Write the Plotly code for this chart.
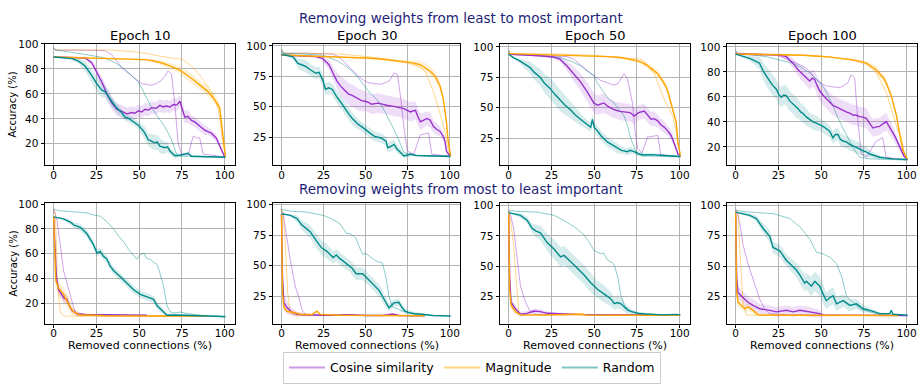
import plotly.graph_objects as go

W, H = 922, 384

# Mean curves are (removed connections %, mean accuracy %, spread ±%);
# single-run curves are (removed connections %, accuracy %).

# ---------- removing weights from least to most important ----------
e10_lm_cos = [(0, 89.5, 0), (10, 89.3, 0.5), (18.4, 88.7, 1), (22.3, 84.9, 2), (25.2, 77.2, 3), (28.2, 69.5, 4),
              (31, 60.5, 5), (34, 52.8, 5), (36.9, 47.7, 5), (40.8, 45.1, 5), (43, 44, 5), (45.6, 45.1, 5),
              (47.5, 44.5, 5), (49.5, 46.4, 5), (51.5, 45.5, 5), (53.4, 47.7, 5), (55.5, 47, 5), (57.3, 49, 5),
              (60, 48.5, 5), (62.1, 50.8, 5), (64, 49.5, 5), (66, 50.3, 5), (68, 49.5, 5), (70, 51.5, 5),
              (72, 51, 5), (73.8, 54.1, 5), (74.8, 49, 5), (76.7, 41.3, 5), (78.5, 42, 5), (80.6, 38.7, 4),
              (82.5, 37.5, 4), (84.5, 34.9, 4), (86.4, 33, 4), (88.3, 31, 4), (90.3, 30, 3), (92.2, 28.5, 3),
              (95.1, 24.6, 3), (96.8, 20, 2), (98, 15.6, 2), (100, 9.5, 0)]
e10_lm_mag = [(0, 89.5, 0), (12, 89, 0.3), (24.3, 88.7, 0.5), (40, 88.2, 0.8), (53.4, 87.4, 1), (58, 86.5, 1.5),
              (63, 84.9, 2), (68, 82.5, 2.5), (72.8, 79.7, 3), (75.7, 77.3, 3.5), (78.6, 74.6, 4), (81.5, 71.5, 4),
              (84.5, 68.2, 4), (87.4, 65, 4), (90.3, 61.8, 4), (92.2, 58.5, 4), (94.2, 55.4, 4), (97.1, 49, 3),
              (98, 38.7, 3), (99, 23.3, 2), (100.5, 9.5, 0)]
e10_lm_rnd = [(0, 89.5, 0), (5, 89, 0.5), (10.7, 88.2, 1), (14.6, 86.2, 2), (18.4, 82.3, 4), (22.3, 74.6, 5),
              (25.2, 68.2, 6), (28.2, 63, 6), (30.1, 61.8, 5), (32, 57.9, 5), (34, 53.5, 4), (35.9, 50.3, 4),
              (37.8, 47.5, 4), (39.8, 45.1, 3), (41.7, 41.3, 3), (43.6, 40.5, 3), (45.6, 38.7, 3), (47.5, 37, 3),
              (49.5, 34.9, 3), (51.5, 32, 4), (53.4, 28.5, 5), (55.3, 23.3, 5), (57.3, 22, 6), (59.2, 20.8, 6),
              (60.5, 21.5, 6), (62.1, 18.2, 6), (65, 16.9, 5), (66.5, 17.5, 4), (68, 14.3, 3), (70.9, 10.5, 2),
              (73.8, 10.8, 1.5), (76.7, 11.8, 1.5), (78.6, 12.5, 1), (80.5, 10, 1), (90, 9.4, 0.5), (100.5, 9.2, 0)]
e10_lm_cos_run = [(0, 97), (1, 95), (15, 95), (30.1, 94.6), (34, 91.3), (37, 86), (39.8, 81), (42.7, 77.5),
                  (45.6, 74.6), (48.5, 71), (51.5, 68.2), (54.4, 67.5), (57.3, 66.9), (60.2, 68.5), (63.1, 70.8),
                  (65, 74), (67, 78.5), (68.9, 75.9), (70.9, 51.5), (72.8, 20.8), (74.8, 11.8), (78.6, 11),
                  (80, 18), (81.6, 26), (83.5, 25), (85.4, 24.6), (87.4, 11.8), (100, 9.5)]
e10_lm_mag_run = [(0, 97), (1, 95.3), (20, 95.2), (34, 95.1), (45, 94), (53.4, 92.6), (61, 90.5), (68.9, 88.7),
                  (74.8, 88), (77.7, 85.5), (80.6, 82.3), (83.5, 78), (86.4, 73.3), (89.3, 67.5), (92.2, 61.8),
                  (94.1, 55.5), (96, 49), (97, 42), (98, 31), (99, 20), (100.5, 9.5)]
e10_lm_rnd_run = [(0, 97), (1, 95), (7, 94), (14.6, 92.6), (22, 90.8), (30.1, 88.7), (33, 87), (35.9, 84.9),
                  (38.8, 82.5), (41.7, 79.7), (44.2, 76.5), (46.6, 73.3), (49.5, 69.5), (51.5, 64.5), (53.4, 59.2),
                  (55.3, 54), (57.3, 49), (59.2, 45), (61.2, 41.3), (63.1, 37.5), (65, 33.6), (67, 28.5),
                  (68.9, 23.3), (71.8, 11.8), (74, 10.2), (100, 9.4)]

e30_lm_cos = [(0, 92.5, 0), (10, 92, 0.5), (20.4, 91.2, 1), (24.3, 89.8, 2), (28.2, 84.5, 4), (31, 76.5, 6),
              (33, 71.1, 7), (35, 67.1, 8), (37, 64.4, 9), (39.8, 60.4, 9), (41.7, 59.5, 9), (43.7, 57.8, 9),
              (45.6, 56, 9), (47.6, 55, 9), (49.5, 54.5, 8), (51.5, 53.7, 8), (53.4, 52, 8), (55.3, 52.4, 8),
              (57.3, 53, 8), (59.2, 52.4, 8), (61.1, 51.5, 8), (63.1, 51, 8), (66, 50.5, 8), (69, 49.7, 8),
              (71, 49.2, 8), (72.8, 48.4, 8), (74.7, 47, 8), (76.7, 45.7, 8), (78, 46.5, 8), (79.6, 47, 7),
              (81, 42, 7), (82.5, 37.7, 7), (84.5, 39, 6), (86.4, 40.4, 6), (88.3, 39, 6), (90.3, 33.7, 5),
              (92.2, 31.5, 5), (94.2, 29.7, 4), (96, 26, 3), (97.1, 21.7, 3), (98, 13.6, 2), (100, 9.6, 0)]
e30_lm_mag = [(0, 92.5, 0), (10, 92, 0.3), (24.3, 91.2, 0.5), (40, 90.5, 0.5), (53.4, 89.8, 0.8), (63, 88.6, 1),
              (72.8, 87.2, 1.5), (78, 86, 2.5), (82.5, 84.5, 3), (85.5, 82, 4), (88.3, 79.2, 4), (91.3, 75.1, 4),
              (94.2, 67.1, 4), (96.1, 56.4, 3), (98, 37.7, 3), (99, 21.7, 2), (100.5, 9.6, 0)]
e30_lm_rnd = [(0, 93.1, 0), (3.5, 92, 1), (6.8, 91, 2), (8.5, 88, 3), (9.7, 85.6, 4), (12, 84.5, 5),
              (14.6, 82.9, 5), (17.5, 80, 5), (20.4, 77.5, 5), (22.3, 78.3, 5), (24.3, 72.5, 5), (26.2, 64.4, 5),
              (28, 65.5, 5), (30.1, 64.4, 5), (31.5, 61, 5), (33, 57.8, 5), (35.9, 52.4, 5), (37.8, 48, 5),
              (39.8, 44.4, 5), (41.7, 41, 5), (43.7, 37.7, 5), (45.6, 35.5, 4), (47.6, 33.7, 4), (49.5, 31.5, 4),
              (51.5, 29.7, 4), (53.4, 27.5, 4), (55.3, 25.7, 4), (57.3, 25, 4), (59.2, 24.3, 4), (62.1, 21.7, 4),
              (63.1, 16.3, 4), (65, 17.5, 4), (67, 19, 4), (68.5, 15.5, 3), (69.9, 13.6, 3), (72.8, 9.6, 2),
              (76.7, 11, 1.5), (80, 10, 1), (90, 9.5, 0.5), (100.5, 9.1, 0)]
e30_lm_cos_run = [(0, 97), (1, 94), (15, 94), (30, 93.3), (34, 91.2), (36.9, 87), (39.8, 83.2), (42.7, 79),
                  (45.6, 75.1), (48.5, 72), (51.5, 69.8), (55.3, 69), (59.2, 68.5), (62, 70), (64, 71.1),
                  (67, 77.8), (68.9, 76.5), (70.9, 56.4), (72.8, 32.4), (74.8, 13.6), (78.6, 11), (80.5, 19),
                  (82.5, 27), (87.4, 28.3), (89.3, 11), (100, 9.5)]
e30_lm_mag_run = [(0, 97), (1, 94), (20, 93.8), (34, 93.3), (45, 92), (59.2, 89.8), (68, 87.5), (76.7, 85.8),
                  (80.6, 83.5), (84.5, 80.5), (86.4, 76), (88.3, 69.8), (90.3, 62), (92.2, 53.7), (93.7, 47),
                  (95.1, 40.4), (97.1, 29.7), (98.5, 18), (100, 9.5)]
e30_lm_rnd_run = [(0, 97), (1, 94), (12, 93.3), (24.3, 92.5), (29, 90), (34, 87.2), (36.9, 84.5), (39.8, 81.8),
                  (42.7, 78), (45.6, 73.8), (48.5, 68.5), (51.5, 63.1), (54.4, 59), (57.3, 55), (59.7, 50),
                  (62.1, 44.4), (64.5, 37.5), (67, 31), (70, 21.7), (72.8, 12.3), (76.7, 11), (80, 10), (100, 9.5)]

e50_lm_cos = [(0, 94, 0), (10, 93.5, 0.5), (20, 92.5, 1), (26, 91.7, 1.5), (30, 89.9, 2), (34, 84.5, 4),
              (38, 77.9, 6), (42, 71.2, 7), (45.9, 63.2, 8), (48, 58, 8), (49.8, 53.9, 8), (52, 52, 8),
              (55.7, 53.9, 8), (58, 51, 7), (61.6, 48.5, 7), (65, 47, 7), (69.5, 45.9, 7), (71, 46, 7),
              (73.4, 43.2, 7), (76, 46, 6), (79.3, 47.2, 6), (81, 44, 6), (83.3, 40.5, 6), (85, 41, 6),
              (87.2, 39.2, 5), (89, 36, 5), (91.1, 33.9, 5), (93, 31, 4), (95, 27.2, 4), (96.5, 22, 3),
              (98, 16.5, 2), (99, 12, 1), (100.5, 10.7, 0)]
e50_lm_mag = [(0, 94.4, 0), (10, 94, 0.3), (25, 93.5, 0.5), (40, 93, 0.5), (49.8, 92.5, 0.5), (58, 92, 0.8),
              (65.5, 91.2, 1), (70, 90, 1), (75.4, 88.5, 1.5), (78, 87, 2), (81.3, 84.5, 2.5), (84, 81.5, 3),
              (87.2, 77.9, 3), (90, 72, 3), (92.1, 67.2, 3), (93.5, 61, 3), (95, 53.9, 3), (96.5, 46, 3),
              (98, 37.9, 3), (99, 21.9, 2), (100.5, 9.9, 0)]
e50_lm_rnd = [(0, 93.9, 0), (3, 91, 1), (6.5, 88.5, 2), (9, 86, 3), (12.4, 83.2, 5), (15, 79, 6), (18.3, 75.2, 7),
              (21, 70, 8), (24.2, 65.9, 9), (27, 61, 9), (30, 56.5, 9), (33, 52, 8), (36, 48.5, 7), (39, 44, 6),
              (42, 40.5, 5), (45, 37, 4), (48, 33.9, 4), (49, 40.5, 4), (50, 34, 4), (51.8, 31.2, 4), (54, 27, 4),
              (57.7, 21.9, 4), (60, 20, 4), (63.6, 16.5, 4), (66, 15, 3), (69.5, 13.9, 3), (71, 15, 3),
              (73.4, 13.9, 2), (76, 12, 2), (79.3, 11.2, 1.5), (84, 11.5, 1), (89, 11, 1), (95, 10.2, 0.5),
              (100.5, 9.9, 0)]
e50_lm_cos_run = [(0, 97), (1, 93.5), (15, 93), (30, 92.5), (34, 92), (38, 89.9), (42, 85), (45.9, 80.5), (50, 76),
                  (53.7, 72.5), (58, 70), (61.6, 68.5), (64, 70), (67.5, 77.9), (69.5, 73.9), (72.4, 53.9),
                  (74, 30), (75.4, 16.5), (78, 13), (81.3, 25.9), (87.2, 27.2), (89, 11.2), (100, 10)]
e50_lm_mag_run = [(0, 97), (1, 94.4), (30, 94), (50, 93), (63.6, 91.2), (70, 90.5), (77.4, 89.9), (80, 87),
                  (82, 83), (85.2, 77.9), (88, 68), (91.1, 56.5), (93.5, 50), (96, 43.2), (98, 29.9), (99, 20),
                  (100.5, 10.7)]
e50_lm_rnd_run = [(0, 97), (1, 93.9), (15, 93), (30, 91.2), (36, 88.5), (42, 84.5), (46, 80), (49.8, 76.5),
                  (52, 70), (55.7, 62), (58, 58), (61.6, 53.9), (65, 48), (67.5, 43.2), (69.5, 35), (71.5, 24.5),
                  (74.4, 13.9), (78, 10.5), (100, 9.5)]

e100_lm_cos = [(0, 94.3, 0), (10, 94, 0.5), (20, 93.8, 1), (25.7, 93.5, 1), (29.6, 92.2, 2), (31.5, 90, 3),
               (33.5, 87, 4), (36.5, 81.8, 5), (38.5, 79, 6), (40.4, 76.6, 6), (43.3, 72.7, 7), (44.8, 75, 7),
               (46.2, 74, 7), (47.7, 69, 8), (49.1, 64.9, 8), (51, 61.5, 8), (53, 58.4, 8), (55, 56, 8),
               (56.9, 53.2, 8), (58.8, 52, 8), (60.8, 50.6, 8), (62.7, 49, 8), (64.7, 48.1, 8), (66.7, 47, 8),
               (68.6, 45.5, 8), (70.6, 45.3, 8), (72.5, 44.2, 8), (74.5, 43.8, 8), (76.4, 42.9, 8), (78.3, 39, 7),
               (80.3, 35.1, 7), (82.2, 36, 7), (84.2, 36.4, 7), (86.1, 38.5, 7), (88.1, 40.3, 7), (89.5, 37, 6),
               (91, 33.8, 6), (92.5, 30, 5), (94, 26, 4), (96.9, 16.9, 3), (98.5, 12.5, 1), (100.5, 9.9, 0)]
e100_lm_mag = [(0, 94.3, 0), (20, 94, 0.3), (40, 93.3, 0.5), (53, 92.2, 0.5), (61, 91, 0.8), (68.6, 89.6, 1),
               (76.4, 87, 2), (79.3, 84.7, 2.5), (82.2, 81.8, 3), (84.6, 78, 3), (87.1, 74, 3), (89, 68, 3),
               (91, 61, 3), (92.5, 53, 3), (94, 45.5, 3), (96, 29.9, 3), (97.9, 16.9, 2), (100.5, 9.9, 0)]
e100_lm_rnd = [(0, 94.3, 0), (4, 92.5, 1), (8.2, 90.9, 2), (11, 89, 3), (14, 87, 5), (16, 81, 7), (17.9, 76.6, 8),
               (19.9, 72.7, 8), (21.8, 69, 8), (23.8, 66.2, 8), (25.2, 62, 8), (26.7, 59.7, 8), (28.1, 61.5, 8),
               (29.6, 61, 8), (31.5, 57, 8), (33.5, 54.5, 8), (35, 52, 8), (36.5, 50.6, 8), (38, 48, 7),
               (39.4, 46.8, 7), (41.3, 44, 7), (43.3, 41.6, 6), (45.2, 40, 6), (47.2, 39, 6), (49.1, 38, 5),
               (51.1, 36.4, 5), (53, 34.5, 5), (55, 32.5, 5), (56.9, 27.3, 5), (58.3, 30, 5), (59.8, 29.9, 5),
               (61.3, 26, 5), (62.8, 24.7, 5), (64.7, 24, 5), (66.7, 22.1, 5), (68.6, 21, 5), (70.6, 19.5, 5),
               (72.5, 18.5, 5), (74.5, 16.9, 4), (76.4, 16, 4), (78.4, 14.3, 3), (81.3, 13, 2), (84.2, 11.7, 1.5),
               (88, 11, 1), (92, 10.4, 0.5), (100.5, 9.9, 0)]
e100_lm_cos_run = [(0, 97), (1, 95), (12, 94.5), (23.8, 93.5), (28.6, 91), (33.5, 88.3), (37.4, 85.7),
                   (41.3, 83.1), (44.2, 78.5), (47.2, 74), (50, 71), (53, 68.8), (57, 68), (60.8, 67.5),
                   (63.2, 69), (65.7, 71.4), (67.6, 77.9), (69.6, 75.3), (71.5, 40.3), (73.5, 14.3), (76.4, 11.7),
                   (79.3, 18), (82.2, 24.7), (86, 27.3), (88, 11.7), (100, 9.5)]
e100_lm_mag_run = [(0, 97), (1, 94.5), (30, 94), (53, 92.2), (68.6, 89.6), (76.4, 87), (79.3, 83.5), (82.2, 79.2),
                   (85.2, 71.5), (88.1, 63.6), (90, 55), (92, 45.5), (93.5, 38), (95, 32.5), (96.9, 27.3),
                   (98.8, 14.3), (100.5, 9.9)]
e100_lm_rnd_run = [(0, 97), (1, 94.8), (10, 93.5), (17.9, 92.2), (25.7, 89.5), (33.5, 87), (38.4, 83.5),
                   (43.3, 79.2), (47.2, 74), (51.1, 68.8), (54, 61), (56.9, 53.2), (58.8, 46.5), (60.8, 40.3),
                   (62.7, 35), (64.7, 29.9), (66.7, 24.5), (68.6, 19.5), (70.6, 15.5), (72.5, 11.7), (78, 10.5),
                   (100, 9.5)]

# ---------- removing weights from most to least important ----------
e10_ml_cos = [(0, 89.7, 0), (0.6, 67, 3), (1.6, 41, 4), (2.9, 30.8, 4), (4.9, 25.7, 4), (6, 24, 4), (7.8, 23, 4),
              (8.8, 19, 3), (10.7, 14, 2), (13.6, 11.5, 1.5), (18, 10.8, 1), (27.3, 10.5, 0.5), (40, 10.3, 0.5),
              (54.6, 10.2, 0.3)]
e10_ml_mag = [(0, 89.7, 0), (0.6, 54, 5), (1.2, 38.6, 6), (2.9, 32, 6), (5.8, 27, 6), (7.8, 21.8, 6),
              (9.7, 16.6, 5), (11.7, 12.8, 3), (15.6, 10.2, 1.5), (20, 10.5, 1), (30, 9.7, 0.5), (60, 9.6, 0.3),
              (90, 9.5, 0.3)]
e10_ml_rnd = [(0, 89.7, 0), (3, 89, 0.5), (5.8, 88, 1), (9.7, 85.5, 2), (12, 83, 2.5), (15.6, 81.2, 3),
              (19.5, 76, 3), (23.4, 67, 3), (25.3, 60.5, 3), (27.3, 61.8, 3), (29, 58, 3), (31.2, 55.4, 3),
              (33, 50, 3), (35, 46.3, 3), (37, 44, 3), (39, 41.2, 3), (42.9, 36, 3), (46.8, 30.8, 3),
              (50.7, 27, 3), (54.6, 25.2, 3), (58.5, 23, 3), (60.4, 18, 3), (62, 16, 3), (64.3, 12.8, 2),
              (66.3, 10.2, 1.5), (70, 10.3, 1), (78, 10.2, 1), (85, 9.8, 0.5), (95, 9.3, 0.3), (100.5, 9, 0)]
e10_ml_cos_run = [(0, 96), (1.9, 87.6), (3.9, 67), (5.8, 46.3), (7.8, 36), (9.7, 25.7), (11.7, 16.6),
                  (13.6, 10.2), (30, 9.8), (60, 9.8), (90, 9.8)]
e10_ml_mag_run = [(0, 96), (1, 93), (1.6, 67), (2.3, 33.4), (3.9, 12.8), (5.8, 9.5), (30, 9.3), (60, 9.3),
                  (90, 9.3)]
e10_ml_rnd_run = [(0, 96), (4, 94.5), (9.7, 94), (19.5, 92.8), (24, 91), (27.3, 90.2), (31, 86), (35, 80),
                  (38, 74), (40.9, 69.5), (44, 63), (46.8, 58), (48.7, 55.4), (50.5, 59), (52.6, 60.5),
                  (54.5, 56), (56.5, 55.4), (58.5, 53), (60.4, 51.5), (62, 45), (64.3, 33.4), (66.3, 18),
                  (68.2, 12.8), (71, 12), (74, 12.8), (78, 11.5), (84, 10.2), (90, 9.5), (100, 9.3)]

e30_ml_cos = [(0, 92, 0), (0.6, 41, 5), (1.4, 20, 6), (3.3, 16, 5), (6.3, 12, 3), (9.2, 10.6, 2), (15, 10, 1),
              (30, 9.8, 0.5), (40, 10.3, 0.5), (50, 9.5, 0.3), (60, 9.6, 0.3), (66, 10.8, 0.5), (70, 9.6, 0.3),
              (85, 9.3, 0.2)]
e30_ml_mag = [(0, 92, 0), (0.6, 28, 3), (1.4, 16, 3), (3.3, 13, 2), (7.2, 12, 2), (11, 10.6, 1), (18, 10.2, 1),
              (21, 13, 1), (23, 10.5, 1), (35, 9.8, 0.5), (60, 9.5, 0.3), (85, 9.3, 0.2)]
e30_ml_rnd = [(0, 92.3, 0), (5.3, 91, 1), (9.2, 88.4, 3), (12.1, 83.1, 4), (15, 80, 5), (17, 77.8, 5),
              (20.9, 70, 6), (23.8, 64.6, 6), (26.8, 62, 6), (30.7, 56.7, 5), (32.6, 58.8, 5), (34.5, 56, 5),
              (36.5, 54, 5), (40.4, 50.1, 5), (42, 48, 5), (44.3, 43.5, 5), (48.2, 43.5, 5), (50, 41, 5),
              (52.1, 38.3, 5), (56, 33, 5), (58, 30, 5), (60, 25, 5), (62, 20, 4), (63.9, 15.8, 3),
              (66.8, 19.8, 3), (69.7, 20.3, 3), (71.7, 15.8, 3), (73.5, 13, 2), (75.6, 11.9, 2), (79, 11, 1.5),
              (83.4, 10.6, 1), (90, 9.5, 0.5), (100.5, 9.2, 0)]
e30_ml_cos_run = [(0, 96), (1, 92), (2.3, 80.5), (5.3, 54), (8.2, 33), (10.2, 25), (12.1, 14.5), (14, 10.6),
                  (30, 9.8), (60, 9.8), (85, 9.5)]
e30_ml_mag_run = [(0, 96), (1, 93), (2.3, 67), (3.7, 28), (5.3, 12), (8, 9.5), (40, 9.5), (85, 9.3)]
e30_ml_rnd_run = [(0, 96), (5, 94.5), (15, 93.7), (24.8, 91), (30, 88), (34.6, 84.4), (38.5, 76.5), (41, 76),
                  (44.3, 72.6), (46, 66), (48.2, 59.4), (50, 60), (52.1, 58), (54, 56), (56, 54), (58, 53),
                  (60, 52), (62, 41), (63.9, 25), (65.8, 17), (67, 16), (69.7, 14.5), (72, 13), (75.6, 11.9),
                  (80, 10.5), (85, 9.5)]

e50_ml_cos = [(0, 93, 0), (0.6, 41.6, 4), (1.4, 20.4, 4), (3.9, 15, 3), (6.9, 10.3, 2), (10.8, 11.1, 2),
              (14.7, 13, 2), (18.6, 12.5, 2), (22.5, 11.1, 1.5), (30, 10.5, 1), (40, 10.2, 0.5), (50, 10, 0.3),
              (70, 9.8, 0.3), (85, 9.6, 0.2), (95, 9.5, 0)]
e50_ml_mag = [(0, 93, 0), (0.6, 31, 3), (1.4, 17.8, 3), (3.9, 12.5, 2), (6.9, 9.8, 1), (20, 9.6, 0.5),
              (43, 10.5, 0.5), (45, 9.6, 0.3), (70, 9.5, 0.3), (100, 9.4, 0)]
e50_ml_rnd = [(0, 94.2, 0), (3, 93, 1), (6.9, 92, 2), (10.8, 88, 3), (13.7, 81.4, 4), (16, 79, 5), (18.6, 77.5, 6),
              (22.5, 69.5, 7), (26.5, 64.2, 8), (30.4, 57.6, 8), (32.4, 58.9, 8), (36.3, 53.6, 8),
              (40.2, 48.3, 8), (44, 43, 8), (48, 36.3, 8), (51.9, 31, 7), (55.9, 27, 7), (59.8, 23, 6),
              (61.8, 19, 5), (63.5, 20, 5), (65.7, 19, 5), (67.6, 16.4, 4), (69.6, 13.8, 3), (72, 12.5, 2),
              (75.5, 11.1, 1.5), (80, 10.5, 1), (85.3, 10.3, 0.5), (90, 9.8, 0.3), (98, 10.2, 0.3),
              (100.5, 9.8, 0)]
e50_ml_cos_run = [(0, 96), (1, 93), (2.9, 81.4), (4.9, 55), (6.9, 33.7), (9.8, 20.4), (12.7, 12.5), (16, 10.2),
                  (40, 10), (70, 9.8), (95, 9.5)]
e50_ml_mag_run = [(0, 96), (1, 89), (2.9, 68), (4.9, 31), (5.9, 12.5), (8, 9.8), (40, 9.6), (100, 9.4)]
e50_ml_rnd_run = [(0, 96), (5, 95.3), (16.7, 94.7), (26.5, 92), (32, 88), (38.2, 82.8), (44, 76), (47, 70),
                  (50, 62.9), (53.9, 60.2), (55.5, 61), (57.8, 55), (60.8, 52.8), (62, 50), (63.7, 41.6),
                  (65.7, 25.7), (67.6, 17.8), (71.6, 12.5), (77.5, 11.1), (85, 10), (100, 9.7)]

e100_ml_cos = [(0, 94, 0), (0.6, 41.4, 5), (1.4, 28, 5), (4.3, 24, 5), (7.2, 20.3, 5), (10.2, 17.7, 5),
               (14, 15, 4), (19.9, 13.7, 4), (23.8, 12.4, 4), (29.7, 13.7, 4), (33.6, 12.4, 4), (37.5, 13.7, 4),
               (43.4, 12.4, 4), (49.2, 11, 3), (51.2, 9.8, 1), (70, 9.6, 0.3), (100.5, 9.5, 0)]
e100_ml_mag = [(0, 94, 0), (0.6, 28, 4), (1.4, 20.3, 4), (3.3, 17.7, 3), (5.3, 15, 3), (7.2, 16.4, 3),
               (10.2, 13.7, 3), (12.1, 11, 2), (14, 9.8, 1), (30, 9.6, 0.5), (60, 9.5, 0.3), (95, 9.4, 0.3)]
e100_ml_rnd = [(0, 94.2, 0), (4, 93, 1), (8.2, 91.6, 1.5), (12.1, 88.9, 2.5), (16, 81, 4), (19.9, 74.4, 5),
               (21.9, 65.2, 5), (25.8, 62.5, 5), (29.7, 54.6, 5), (31.6, 52, 5), (35.5, 46.7, 6), (37.5, 42.7, 6),
               (40.4, 36, 7), (41.4, 37.5, 7), (44.3, 33.5, 8), (46.3, 37.5, 8), (49.2, 33.5, 8), (51.2, 27, 8),
               (53, 21.6, 7), (55, 24, 7), (57, 25.6, 7), (59, 19, 6), (62.9, 21.6, 5), (66.8, 17.7, 5),
               (70.7, 19, 4), (74.6, 15, 3), (78.5, 13.7, 2), (84.4, 11, 1), (90.2, 11, 0.5), (91, 13.7, 0.5),
               (92, 10.5, 0.5), (100.5, 9.8, 0)]
e100_ml_cos_run = [(0, 96), (1, 94), (2.3, 86.3), (4.3, 67.8), (7.2, 52), (10.2, 38.8), (14, 23), (17, 15),
                   (19.9, 11), (30, 10), (60, 9.8), (95, 9.6)]
e100_ml_mag_run = [(0, 96), (1.4, 94), (2.3, 67.8), (4.3, 20.3), (6.3, 9.8), (30, 9.6), (95, 9.4)]
e100_ml_rnd_run = [(0, 96), (5, 94.5), (21.9, 93), (27, 91), (31.6, 89), (35, 85), (37.5, 82.3), (40, 78),
                   (43.4, 71.8), (47.3, 61.2), (51, 60), (55, 57.3), (59, 52), (62, 41.4), (64.8, 25.6),
                   (66.5, 23), (68.75, 20.3), (72.7, 15), (78.5, 12.4), (85, 10), (100, 9.5)]

epochs = [10, 30, 50, 100]
methods = ["Cosine similarity", "Magnitude", "Random"]
x_ticks = [0, 25, 50, 75, 100]

# panel order: top row (least -> most), then bottom row (most -> least)
panels = [
    (e10_lm_cos, e10_lm_mag, e10_lm_rnd, e10_lm_cos_run, e10_lm_mag_run, e10_lm_rnd_run),
    (e30_lm_cos, e30_lm_mag, e30_lm_rnd, e30_lm_cos_run, e30_lm_mag_run, e30_lm_rnd_run),
    (e50_lm_cos, e50_lm_mag, e50_lm_rnd, e50_lm_cos_run, e50_lm_mag_run, e50_lm_rnd_run),
    (e100_lm_cos, e100_lm_mag, e100_lm_rnd, e100_lm_cos_run, e100_lm_mag_run, e100_lm_rnd_run),
    (e10_ml_cos, e10_ml_mag, e10_ml_rnd, e10_ml_cos_run, e10_ml_mag_run, e10_ml_rnd_run),
    (e30_ml_cos, e30_ml_mag, e30_ml_rnd, e30_ml_cos_run, e30_ml_mag_run, e30_ml_rnd_run),
    (e50_ml_cos, e50_ml_mag, e50_ml_rnd, e50_ml_cos_run, e50_ml_mag_run, e50_ml_rnd_run),
    (e100_ml_cos, e100_ml_mag, e100_ml_rnd, e100_ml_cos_run, e100_ml_mag_run, e100_ml_rnd_run),
]

# axis frame positions (px) and y limits
col_px = [(45, 235), (273, 460), (500, 690), (727, 917)]
row_px = [(39, 165), (204, 329)]
y_ranges = [(2.7, 100.2), (1.8, 101.8), (2.6, 102.6), (5.2, 102.6),
            (3.2, 100.8), (2.75, 101.0), (2.4, 102.1), (2.6, 101.6)]
ticks_20 = [20, 40, 60, 80, 100]
ticks_25 = [25, 50, 75, 100]
y_tick_sets = [ticks_20, ticks_25, ticks_25, ticks_20, ticks_20, ticks_25, ticks_25, ticks_25]

RGB = [(153, 50, 204), (255, 165, 0), (0, 139, 139)]


def rgba(c, a):
    return "rgba(%d,%d,%d,%.2f)" % (c[0], c[1], c[2], a)


fig = go.Figure()
layout = {}

for i, series in enumerate(panels):
    r, c = divmod(i, 4)
    xa = "x" if i == 0 else "x%d" % (i + 1)
    ya = "y" if i == 0 else "y%d" % (i + 1)
    means, runs = series[:3], series[3:]
    # spread bands
    for m, col in zip(means, RGB):
        xs = [p[0] for p in m]
        up = [p[1] + p[2] for p in m]
        lo = [p[1] - p[2] for p in m]
        fig.add_trace(go.Scatter(x=xs + xs[::-1], y=up + lo[::-1], fill="toself",
                                 fillcolor=rgba(col, 0.16), line=dict(width=0),
                                 hoverinfo="skip", showlegend=False, xaxis=xa, yaxis=ya))
    # single runs
    for run, col in zip(runs, RGB):
        fig.add_trace(go.Scatter(x=[p[0] for p in run], y=[p[1] for p in run], mode="lines",
                                 line=dict(color=rgba(col, 0.45), width=1),
                                 showlegend=False, xaxis=xa, yaxis=ya))
    # means
    for m, col in zip(means, RGB):
        fig.add_trace(go.Scatter(x=[p[0] for p in m], y=[p[1] for p in m], mode="lines",
                                 line=dict(color=rgba(col, 1), width=1.4),
                                 showlegend=False, xaxis=xa, yaxis=ya))

    x0, x1 = col_px[c]
    t0, t1 = row_px[r]
    common = dict(showline=True, linecolor="black", linewidth=1, mirror=True,
                  ticks="outside", ticklen=3.5, tickwidth=0.8, tickcolor="black",
                  showgrid=True, gridcolor="#b4b4b4", gridwidth=1, zeroline=False,
                  tickfont=dict(size=10.5, color="black"))
    layout["xaxis" if i == 0 else "xaxis%d" % (i + 1)] = dict(
        domain=[x0 / W, x1 / W], range=[-5.05, 106.05], tickvals=x_ticks,
        anchor=ya, ticklabelstandoff=-4, **common)
    layout["yaxis" if i == 0 else "yaxis%d" % (i + 1)] = dict(
        domain=[1 - t1 / H, 1 - t0 / H], range=list(y_ranges[i]), tickvals=y_tick_sets[i],
        anchor=xa, **common)

# legend entries
for name, col in zip(methods, RGB):
    fig.add_trace(go.Scatter(x=[None], y=[None], mode="lines", name=name,
                             line=dict(color=rgba(col, 0.5), width=2)))

NAVY = "#1f1f78"
ann = []
for c, ep in enumerate(epochs):
    x0, x1 = col_px[c]
    ann.append(dict(text="Epoch %d" % ep, x=(x0 + x1) / 2 / W, y=1 - 31 / H, xref="paper", yref="paper",
                    showarrow=False, font=dict(size=13, color="black"), xanchor="center", yanchor="middle"))
    ann.append(dict(text="Removed connections (%)", x=(x0 + x1) / 2 / W, y=1 - 351 / H, xref="paper",
                    yref="paper", showarrow=False, font=dict(size=11, color="black"),
                    xanchor="center", yanchor="middle"))
ann.append(dict(text="Removing weights from least to most important", x=0.5, y=1 - 12 / H, xref="paper",
                yref="paper", showarrow=False, font=dict(size=13.5, color=NAVY),
                xanchor="center", yanchor="middle"))
ann.append(dict(text="Removing weights from most to least important", x=0.5, y=1 - 189 / H, xref="paper",
                yref="paper", showarrow=False, font=dict(size=13.5, color=NAVY),
                xanchor="center", yanchor="middle"))
for r in range(2):
    t0, t1 = row_px[r]
    ann.append(dict(text="Accuracy (%)", x=13 / W, y=1 - (t0 + t1) / 2 / H, xref="paper", yref="paper",
                    showarrow=False, textangle=-90, font=dict(size=10, color="black"),
                    xanchor="center", yanchor="middle"))

fig.update_layout(
    width=W, height=H, autosize=False,
    margin=dict(l=0, r=0, t=0, b=0),
    paper_bgcolor="white", plot_bgcolor="white",
    font=dict(family="DejaVu Sans", color="black"),
    annotations=ann,
    legend=dict(orientation="h", x=472 / W, xanchor="center", y=1 - 358 / H, yanchor="top",
                bordercolor="#cccccc", borderwidth=1, font=dict(size=12.5),
                bgcolor="white", itemwidth=36),
    **layout,
)

fig.write_html("out.html")
